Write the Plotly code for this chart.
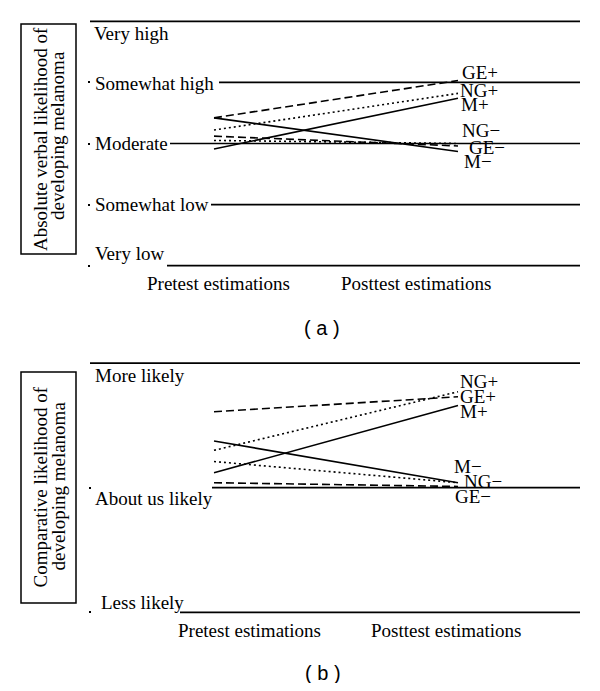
import plotly.graph_objects as go

# ---------------- data ----------------
categories = ["Pretest estimations", "Posttest estimations"]

# panel (a): absolute verbal likelihood (1 = very low ... 5 = very high)
a_levels = [1, 2, 3, 4, 5]
a_level_labels = ["Very low", "Somewhat low", "Moderate", "Somewhat high", "Very high"]
a_series_names = ["GE+", "NG+", "M+", "NG\u2212", "GE\u2212", "M\u2212"]
a_GE_plus = [3.42, 4.03]
a_NG_plus = [3.22, 3.82]
a_M_plus = [2.91, 3.74]
a_NG_minus = [3.05, 3.00]
a_GE_minus = [3.12, 2.96]
a_M_minus = [3.42, 2.87]

# panel (b): comparative likelihood (1 = less likely, 2 = about as likely, 3 = more likely)
b_levels = [1, 2, 3]
b_level_labels = ["Less likely", "About us likely", "More likely"]
b_series_names = ["NG+", "GE+", "M+", "M\u2212", "NG\u2212", "GE\u2212"]
b_NG_plus = [2.30, 2.77]
b_GE_plus = [2.61, 2.73]
b_M_plus = [2.12, 2.66]
b_M_minus = [2.375, 2.04]
b_NG_minus = [2.21, 2.04]
b_GE_minus = [2.04, 2.01]

# ---------------- layout helpers ----------------
OFF = 8                      # page body margin
W, H = 600 - 2 * OFF, 691 - 2 * OFF
SERIF = "Liberation Serif"
FS = 19


def px(x):
    """page pixel x -> paper fraction"""
    return (x - OFF) / W


def py(y):
    """page pixel y -> paper fraction"""
    return 1 - (y - OFF) / H


DASH = {"GE": "8px,4px", "NG": "2px,3px", "M": "solid"}


def style_of(name):
    return DASH[name.rstrip("+\u2212")]


fig = go.Figure()

a_data = {"GE+": a_GE_plus, "NG+": a_NG_plus, "M+": a_M_plus,
          "NG\u2212": a_NG_minus, "GE\u2212": a_GE_minus, "M\u2212": a_M_minus}
b_data = {"NG+": b_NG_plus, "GE+": b_GE_plus, "M+": b_M_plus,
          "M\u2212": b_M_minus, "NG\u2212": b_NG_minus, "GE\u2212": b_GE_minus}

for name in a_series_names:
    fig.add_trace(go.Scatter(x=categories, y=a_data[name], mode="lines",
                             line=dict(color="black", width=1.6, dash=style_of(name)),
                             xaxis="x", yaxis="y", showlegend=False, hoverinfo="skip"))
for name in b_series_names:
    fig.add_trace(go.Scatter(x=categories, y=b_data[name], mode="lines",
                             line=dict(color="black", width=1.6, dash=style_of(name)),
                             xaxis="x2", yaxis="y2", showlegend=False, hoverinfo="skip"))

# x: category 0 at page x=214, category 1 at page x=458
PRE_X, POST_X = 214, 458
span = POST_X - PRE_X
xr = [-(PRE_X - OFF) / span, (OFF + W - PRE_X) / span]

# panel (a): level 3 at page y=143.5, 61.1 px per level; panel spans page y 8..300
A_TOP, A_BOT = OFF, 300
ya_range = [3 - (A_BOT - 143.5) / 61.1, 3 + (143.5 - A_TOP) / 61.1]
# panel (b): level 2 at page y=487.7, 124.6 px per level; panel spans page y 340..683
B_TOP, B_BOT = 340, OFF + H
yb_range = [2 - (B_BOT - 487.7) / 124.6, 2 + (487.7 - B_TOP) / 124.6]

shapes = []
annotations = []

# horizontal level lines
a_line_start = {1: 167, 2: 211, 3: 170, 4: 219, 5: 90}
for lv in a_levels:
    shapes.append(dict(type="line", xref="paper", yref="y", x0=px(a_line_start[lv]), x1=px(580),
                       y0=lv, y1=lv, line=dict(color="black", width=1.7)))
b_line_start = {1: 180, 2: 212, 3: 90}
for lv in b_levels:
    shapes.append(dict(type="line", xref="paper", yref="y2", x0=px(b_line_start[lv]), x1=px(580),
                       y0=lv, y1=lv, line=dict(color="black", width=1.7)))

# level labels
a_label_pos = {1: (93, 12.7), 2: (93, 0), 3: (93, 0), 4: (93, -1.5), 5: (92, -12)}
for lv, lab in zip(a_levels, a_level_labels):
    x0, sh = a_label_pos[lv]
    annotations.append(dict(text=lab, xref="paper", yref="y", x=px(x0), y=lv, yshift=sh,
                            xanchor="left", yanchor="middle", showarrow=False,
                            font=dict(family=SERIF, size=FS, color="black")))
b_label_pos = {1: (99, 9.5), 2: (93, -11), 3: (93, -12.5)}
for lv, lab in zip(b_levels, b_level_labels):
    x0, sh = b_label_pos[lv]
    annotations.append(dict(text=lab, xref="paper", yref="y2", x=px(x0), y=lv, yshift=sh,
                            xanchor="left", yanchor="middle", showarrow=False,
                            font=dict(family=SERIF, size=FS, color="black")))

# series end labels (page pixel positions)
a_tag_pos = {"GE+": (460, 72.7), "NG+": (458, 90), "M+": (459, 104.5),
             "NG\u2212": (460, 130.7), "GE\u2212": (467, 147), "M\u2212": (462, 161.7)}
b_tag_pos = {"NG+": (458, 381.7), "GE+": (458, 396), "M+": (458, 411.7),
             "M\u2212": (452, 466.7), "NG\u2212": (462, 481.7), "GE\u2212": (453, 496.7)}
for d in (a_tag_pos, b_tag_pos):
    for name, (x0, y0) in d.items():
        annotations.append(dict(text=name, xref="paper", yref="paper", x=px(x0), y=py(y0),
                                xanchor="left", yanchor="middle", showarrow=False,
                                font=dict(family=SERIF, size=FS, color="black")))

# x category labels
for cat, (x0, y0) in zip(categories, [(218.5, 283), (415.5, 283)]):
    annotations.append(dict(text=cat, xref="paper", yref="paper", x=px(x0), y=py(y0),
                            xanchor="center", yanchor="middle", showarrow=False,
                            font=dict(family=SERIF, size=FS, color="black")))
for cat, (x0, y0) in zip(categories, [(249.5, 630.5), (446, 630.5)]):
    annotations.append(dict(text=cat, xref="paper", yref="paper", x=px(x0), y=py(y0),
                            xanchor="center", yanchor="middle", showarrow=False,
                            font=dict(family=SERIF, size=FS, color="black")))

# y titles in boxes
shapes.append(dict(type="rect", xref="paper", yref="paper", x0=px(21), x1=px(76),
                   y0=py(254), y1=py(24), line=dict(color="black", width=1.5)))
shapes.append(dict(type="rect", xref="paper", yref="paper", x0=px(21), x1=px(76),
                   y0=py(603), y1=py(372), line=dict(color="black", width=1.5)))
for txt, (x0, y0) in [("Absolute verbal likelihood of", (40, 139)),
                      ("developing melanoma", (58, 136)),
                      ("Comparative likelihood of", (40, 487.5)),
                      ("developing melanoma", (58, 486.5))]:
    annotations.append(dict(text=txt, xref="paper", yref="paper", x=px(x0), y=py(y0),
                            xanchor="center", yanchor="middle", textangle=-90, showarrow=False,
                            font=dict(family=SERIF, size=FS, color="black")))

# captions
for txt, (x0, y0) in [("( a )", (322, 328)), ("( b )", (323, 673))]:
    annotations.append(dict(text=txt, xref="paper", yref="paper", x=px(x0), y=py(y0),
                            xanchor="center", yanchor="middle", showarrow=False,
                            font=dict(family="Liberation Sans", size=20, color="black")))

axis_common = dict(showgrid=False, zeroline=False, showline=False)
fig.update_layout(
    width=W, height=H,
    margin=dict(l=0, r=0, t=0, b=0),
    paper_bgcolor="white", plot_bgcolor="white",
    xaxis=dict(domain=[0, 1], range=xr, type="category", showticklabels=False,
               anchor="y", **axis_common),
    xaxis2=dict(domain=[0, 1], range=xr, type="category", showticklabels=False,
                anchor="y2", **axis_common),
    yaxis=dict(domain=[py(A_BOT), py(A_TOP)], range=ya_range, anchor="free", position=px(90),
               tickvals=a_levels[:-1], ticks="outside", ticklen=2, tickwidth=1.5,
               tickcolor="black", showticklabels=False, **axis_common),
    yaxis2=dict(domain=[py(B_BOT), py(B_TOP)], range=yb_range, anchor="free", position=px(91),
                tickvals=b_levels[:-1], ticks="outside", ticklen=2, tickwidth=1.5,
                tickcolor="black", showticklabels=False, **axis_common),
    shapes=shapes,
    annotations=annotations,
)

fig.write_html("out.html")
